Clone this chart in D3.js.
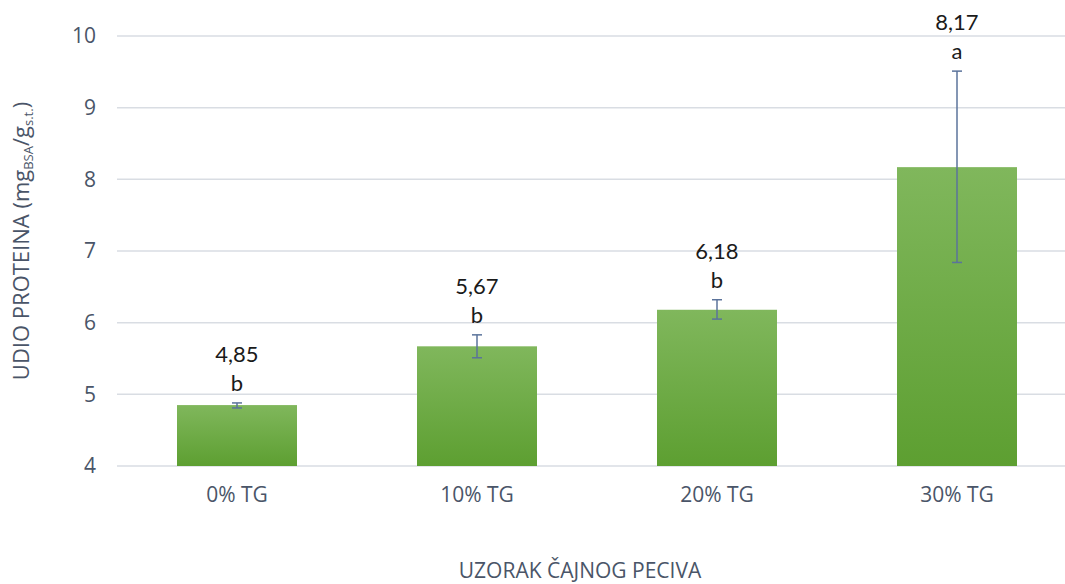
<!DOCTYPE html>
<html>
<head>
<meta charset="utf-8">
<script src="https://cdn.jsdelivr.net/npm/d3@7"></script>
<style>
  body { margin: 0; background: white; }
  .grid line { stroke: #d9dde3; stroke-width: 1.5px; }
  .tick text { fill: #4a5568; font-family: "Open Sans", sans-serif; font-size: 21px; }
  .lbl { font-family: Lato, "Open Sans", sans-serif; font-size: 22px; fill: #1a1a1a; }
  .title { fill: #4a5568; font-family: "Open Sans", sans-serif; font-size: 21px; }
</style>
</head>
<body>
<svg id="svg" width="1065" height="584"></svg>
<script>
var categories = ["0% TG", "10% TG", "20% TG", "30% TG"];
var values = [4.85, 5.67, 6.18, 8.17];
var errLow = [4.81, 5.51, 6.05, 6.84];
var errHigh = [4.88, 5.83, 6.32, 9.51];
var letters = ["b", "b", "b", "a"];
var labels = ["4,85", "5,67", "6,18", "8,17"];
var yTicks = [4, 5, 6, 7, 8, 9, 10];

var mLeft = 117, mRight = 1077, mTop = 36, mBottom = 466;

var svg = d3.select("#svg");

var defs = svg.append("defs");
var grad = defs.append("linearGradient").attr("id", "barGrad")
  .attr("x1", 0).attr("y1", 0).attr("x2", 0).attr("y2", 1);
grad.append("stop").attr("offset", "0%").attr("stop-color", "#80b75c");
grad.append("stop").attr("offset", "100%").attr("stop-color", "#5d9f31");

var x = d3.scaleBand().domain(categories).range([mLeft, mRight]).paddingInner(0.5).paddingOuter(0.25);
var y = d3.scaleLinear().domain([4, 10]).range([mBottom, mTop]);

// gridlines
svg.append("g").attr("class", "grid")
  .selectAll("line").data(yTicks).join("line")
  .attr("x1", mLeft).attr("x2", mRight)
  .attr("y1", function(d) { return y(d); })
  .attr("y2", function(d) { return y(d); });

// y axis labels
var yAxis = d3.axisLeft(y).tickValues(yTicks).tickSize(0).tickPadding(0)
  .tickFormat(function(d) { return d; });
var yg = svg.append("g").attr("transform", "translate(96,0)").call(yAxis);
yg.select(".domain").remove();

// x axis labels
var xAxis = d3.axisBottom(x).tickSize(0).tickPadding(21);
var xg = svg.append("g").attr("transform", "translate(0," + mBottom + ")").call(xAxis);
xg.select(".domain").remove();

// bars
svg.append("g").selectAll("rect").data(categories).join("rect")
  .attr("x", function(d) { return x(d); })
  .attr("width", x.bandwidth())
  .attr("y", function(d, i) { return y(values[i]); })
  .attr("height", function(d, i) { return y(4) - y(values[i]); })
  .attr("fill", "url(#barGrad)");

// error bars
var eg = svg.append("g").attr("stroke", "#5b739b").attr("stroke-width", 1.5);
categories.forEach(function(c, i) {
  var cx = x(c) + x.bandwidth() / 2;
  eg.append("line").attr("x1", cx).attr("x2", cx).attr("y1", y(errLow[i])).attr("y2", y(errHigh[i]));
  eg.append("line").attr("x1", cx - 5).attr("x2", cx + 5).attr("y1", y(errLow[i])).attr("y2", y(errLow[i]));
  eg.append("line").attr("x1", cx - 5).attr("x2", cx + 5).attr("y1", y(errHigh[i])).attr("y2", y(errHigh[i]));
});

// data labels: value above, significance letter below it
categories.forEach(function(c, i) {
  var cx = x(c) + x.bandwidth() / 2;
  var t = y(errHigh[i]);
  svg.append("text").attr("class", "lbl").attr("x", cx).attr("y", t - 12)
    .attr("text-anchor", "middle").text(letters[i]);
  svg.append("text").attr("class", "lbl").attr("x", cx).attr("y", t - 41)
    .attr("text-anchor", "middle").text(labels[i]);
});

// axis titles
svg.append("text").attr("class", "title")
  .attr("x", 580).attr("y", 578).attr("text-anchor", "middle")
  .text("UZORAK ČAJNOG PECIVA");

var yt = svg.append("text").attr("class", "title")
  .attr("transform", "translate(29,241) rotate(-90)")
  .attr("text-anchor", "middle")
  .style("font-size", "22px");
yt.append("tspan").text("UDIO PROTEINA (mg");
yt.append("tspan").attr("font-size", "13px").attr("dy", 4).text("BSA");
yt.append("tspan").attr("dy", -4).text("/g");
yt.append("tspan").attr("font-size", "13px").attr("dy", 4).text("s.t.");
yt.append("tspan").attr("dy", -4).text(")");
</script>
</body>
</html>
